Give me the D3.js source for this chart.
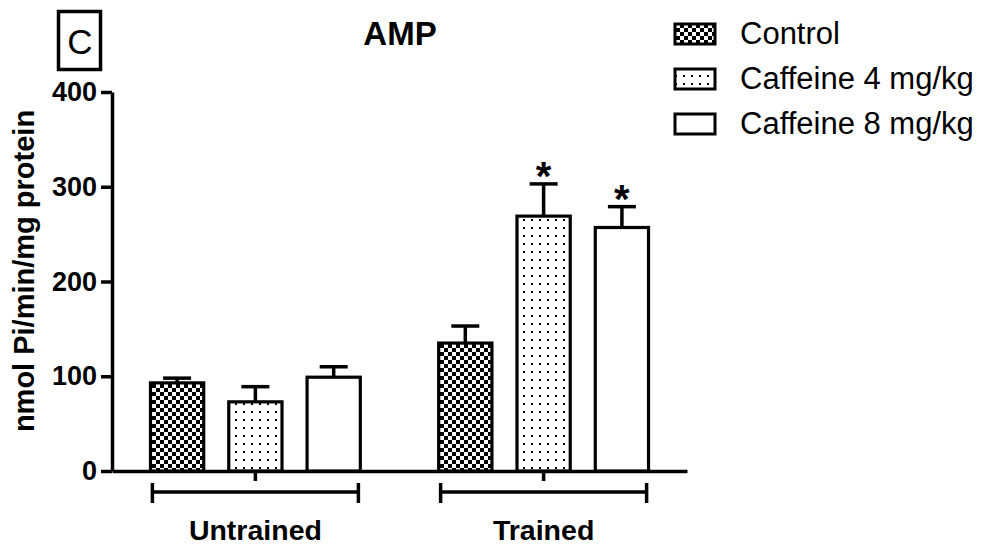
<!DOCTYPE html>
<html>
<head>
<meta charset="utf-8">
<script src="https://cdn.jsdelivr.net/npm/d3@7"></script>
<style>
  body { margin: 0; background: #fff; }
  svg { display: block; font-family: "Liberation Sans", Arial, sans-serif; }
</style>
</head>
<body>
<div id="chart"></div>
<script>
// data
let groups = ["Untrained", "Trained"]
let series = ["Control", "Caffeine 4 mg/kg", "Caffeine 8 mg/kg"]
let untrainedMean = [93, 73, 99]
let untrainedSem = [5, 16, 11]
let trainedMean = [135, 269, 257]
let trainedSem = [18, 34, 22]
let trainedSig = ["", "*", "*"]
let untrainedSig = ["", "", ""]
let yTicks = [0, 100, 200, 300, 400]

let rows = []
groups.forEach((g, gi) => {
  let m = gi == 0 ? untrainedMean : trainedMean
  let s = gi == 0 ? untrainedSem : trainedSem
  let sig = gi == 0 ? untrainedSig : trainedSig
  series.forEach((k, i) => {
    rows.push({ group: g, key: k, mean: m[i], sem: s[i], sig: sig[i] })
  })
})

let width = 984,
    height = 552

let svg = d3.select("#chart")
  .append("svg")
  .attr("width", width)
  .attr("height", height)

// fill patterns
let defs = svg.append("defs")
let checker = defs.append("pattern")
  .attr("id", "checker")
  .attr("patternUnits", "userSpaceOnUse")
  .attr("width", 8).attr("height", 8)
checker.append("rect").attr("width", 8).attr("height", 8).attr("fill", "#fff")
checker.append("rect").attr("width", 4).attr("height", 4).attr("fill", "#000")
checker.append("rect").attr("x", 4).attr("y", 4).attr("width", 4).attr("height", 4).attr("fill", "#000")

let dots = defs.append("pattern")
  .attr("id", "dots")
  .attr("patternUnits", "userSpaceOnUse")
  .attr("width", 8).attr("height", 8)
dots.append("rect").attr("width", 8).attr("height", 8).attr("fill", "#fff")
dots.append("rect").attr("x", 3).attr("y", 3).attr("width", 2).attr("height", 2).attr("fill", "#000")

let fill = d3.scaleOrdinal()
  .domain(series)
  .range(["url(#checker)", "url(#dots)", "#fff"])

// scales
let y = d3.scaleLinear().domain([0, 400]).range([471, 92])

let x0 = d3.scaleBand()
  .domain(groups)
  .range([112, 687])
  .paddingInner(0.185)
  .paddingOuter(0.09)

let x1 = d3.scaleBand()
  .domain(series)
  .range([0, x0.bandwidth()])
  .paddingInner(0.32)
  .paddingOuter(0.16)

// y axis
let yAxis = svg.append("g")
  .attr("transform", "translate(112,0)")
  .call(d3.axisLeft(y).tickValues(yTicks).tickSize(11).tickSizeOuter(0).tickPadding(4))
yAxis.selectAll("path, line").attr("stroke", "#000").attr("stroke-width", 3.5)
yAxis.selectAll("text")
  .style("font-size", "27px")
  .style("font-weight", "bold")
  .attr("fill", "#000")
  .attr("font-family", null)

// x axis
let xAxis = svg.append("g")
  .attr("transform", "translate(0," + y(0) + ")")
  .call(d3.axisBottom(x0).tickSize(10).tickSizeOuter(0).tickFormat(""))
xAxis.selectAll("path, line").attr("stroke", "#000").attr("stroke-width", 3.5)

// group brackets and labels
let brk = svg.append("g")
groups.forEach(g => {
  let cx = x0(g) + x0.bandwidth() / 2
  let half = 103
  brk.append("line").attr("x1", cx - half).attr("x2", cx + half).attr("y1", 492).attr("y2", 492)
  brk.append("line").attr("x1", cx - half).attr("x2", cx - half).attr("y1", 483).attr("y2", 503)
  brk.append("line").attr("x1", cx + half).attr("x2", cx + half).attr("y1", 483).attr("y2", 503)
  svg.append("text")
    .attr("x", cx).attr("y", 540)
    .attr("text-anchor", "middle")
    .style("font-size", "28.5px")
    .style("font-weight", "bold")
    .text(g)
})
brk.selectAll("line").attr("stroke", "#000").attr("stroke-width", 3.5)

// bars
let bx = d => x0(d.group) + x1(d.key)

svg.append("g").selectAll("rect")
  .data(rows)
  .enter()
  .append("rect")
  .attr("x", bx)
  .attr("y", d => y(d.mean))
  .attr("width", x1.bandwidth())
  .attr("height", d => y(0) - y(d.mean))
  .attr("fill", d => fill(d.key))
  .attr("stroke", "#000")
  .attr("stroke-width", 3.2)

// error bars (upper only)
let err = svg.append("g").attr("stroke", "#000").attr("stroke-width", 3.5)
rows.forEach(d => {
  let cx = bx(d) + x1.bandwidth() / 2
  err.append("line").attr("x1", cx).attr("x2", cx)
    .attr("y1", y(d.mean)).attr("y2", y(d.mean + d.sem))
  err.append("line").attr("x1", cx - 14).attr("x2", cx + 14)
    .attr("y1", y(d.mean + d.sem)).attr("y2", y(d.mean + d.sem))
})

// significance marks
svg.append("g").selectAll("text")
  .data(rows.filter(d => d.sig != ""))
  .enter()
  .append("text")
  .attr("x", d => bx(d) + x1.bandwidth() / 2)
  .attr("y", d => y(d.mean + d.sem) + 6)
  .attr("text-anchor", "middle")
  .style("font-size", "40px")
  .style("font-weight", "bold")
  .text(d => d.sig)

// y label
svg.append("text")
  .attr("transform", "translate(34,271) rotate(-90)")
  .attr("text-anchor", "middle")
  .style("font-size", "29px")
  .style("font-weight", "bold")
  .text("nmol Pi/min/mg protein")

// title
svg.append("text")
  .attr("x", 400).attr("y", 45)
  .attr("text-anchor", "middle")
  .style("font-size", "33px")
  .style("font-weight", "bold")
  .text("AMP")

// panel letter
svg.append("rect")
  .attr("x", 58.5).attr("y", 11.5)
  .attr("width", 42).attr("height", 58)
  .attr("fill", "none")
  .attr("stroke", "#000")
  .attr("stroke-width", 3.5)
svg.append("text")
  .attr("x", 80).attr("y", 54)
  .attr("text-anchor", "middle")
  .style("font-size", "35px")
  .text("C")

// legend
let legend = svg.append("g")
series.forEach((k, i) => {
  let base = 44 + i * 45
  legend.append("rect")
    .attr("x", 675).attr("y", base - 20)
    .attr("width", 40).attr("height", 20)
    .attr("fill", fill(k))
    .attr("stroke", "#000")
    .attr("stroke-width", 3)
  legend.append("text")
    .attr("x", 740).attr("y", base)
    .style("font-size", "31px")
    .text(k)
})
</script>
</body>
</html>
